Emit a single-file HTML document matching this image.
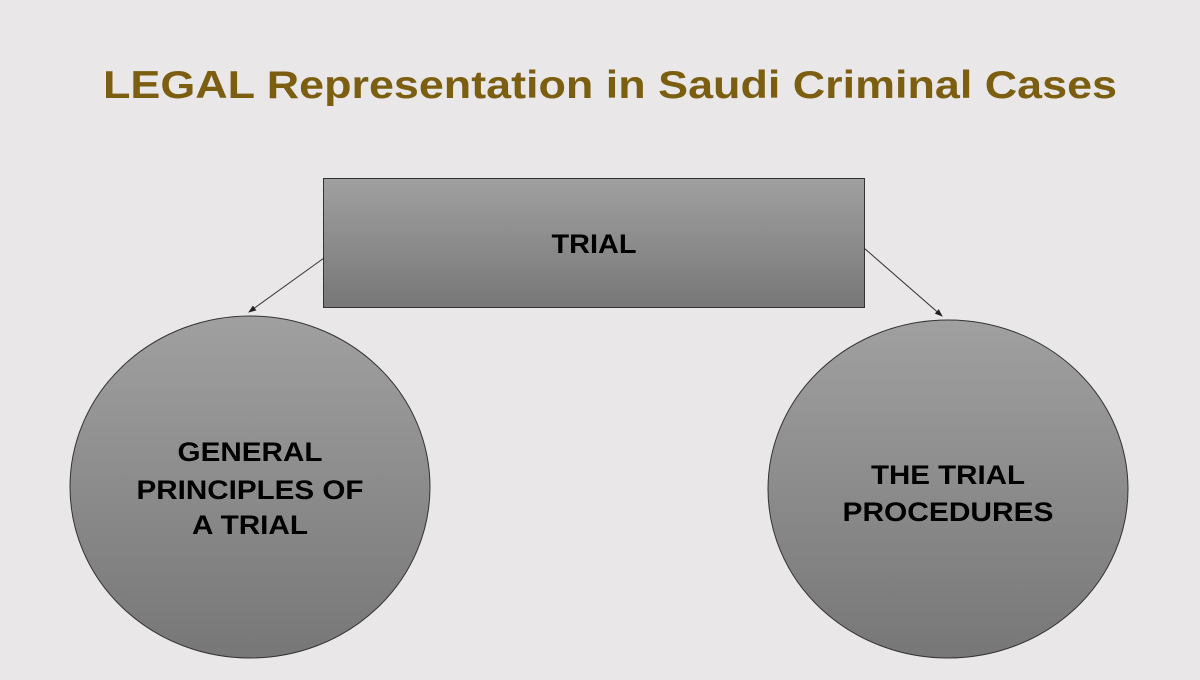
<!DOCTYPE html>
<html><head><style>
body{margin:0;width:1200px;height:675px;background:#e9e7e7;overflow:hidden;font-family:"Liberation Sans",sans-serif}
</style></head><body>
<svg width="1200" height="675" xmlns="http://www.w3.org/2000/svg">
<defs>
<linearGradient id="g" x1="0" y1="0" x2="0" y2="1"><stop offset="0" stop-color="#a0a0a0"/><stop offset="1" stop-color="#777"/></linearGradient>
<marker id="a" markerWidth="8" markerHeight="8" refX="7" refY="4" orient="auto" markerUnits="userSpaceOnUse"><path d="M0,1 L8,4 L0,7z" fill="#222"/></marker>
</defs>
<text x="610" y="98" text-anchor="middle" font-size="39" font-weight="bold" fill="#7b5e10" textLength="1014" lengthAdjust="spacingAndGlyphs">LEGAL Representation in Saudi Criminal Cases</text>
<rect x="323.5" y="178.5" width="541" height="129" fill="url(#g)" stroke="#333"/>
<g font-size="27" font-weight="bold" fill="#000" text-anchor="middle" lengthAdjust="spacingAndGlyphs">
<text x="594" y="253" textLength="85" lengthAdjust="spacingAndGlyphs">TRIAL</text>
</g>
<line x1="324" y1="258" x2="249" y2="312" stroke="#333" marker-end="url(#a)"/>
<line x1="864" y1="248" x2="942" y2="316" stroke="#333" marker-end="url(#a)"/>
<ellipse cx="250" cy="487" rx="180" ry="171" fill="url(#g)" stroke="#333"/>
<ellipse cx="948" cy="489" rx="180" ry="169" fill="url(#g)" stroke="#333"/>
<g font-size="27" font-weight="bold" fill="#000" text-anchor="middle">
<text x="250" y="461" textLength="145" lengthAdjust="spacingAndGlyphs">GENERAL</text>
<text x="250" y="499" textLength="227" lengthAdjust="spacingAndGlyphs">PRINCIPLES OF</text>
<text x="250" y="534" textLength="116" lengthAdjust="spacingAndGlyphs">A TRIAL</text>
<text x="948" y="484" textLength="154" lengthAdjust="spacingAndGlyphs">THE TRIAL</text>
<text x="948" y="521" textLength="211" lengthAdjust="spacingAndGlyphs">PROCEDURES</text>
</g>
</svg>
</body></html>
